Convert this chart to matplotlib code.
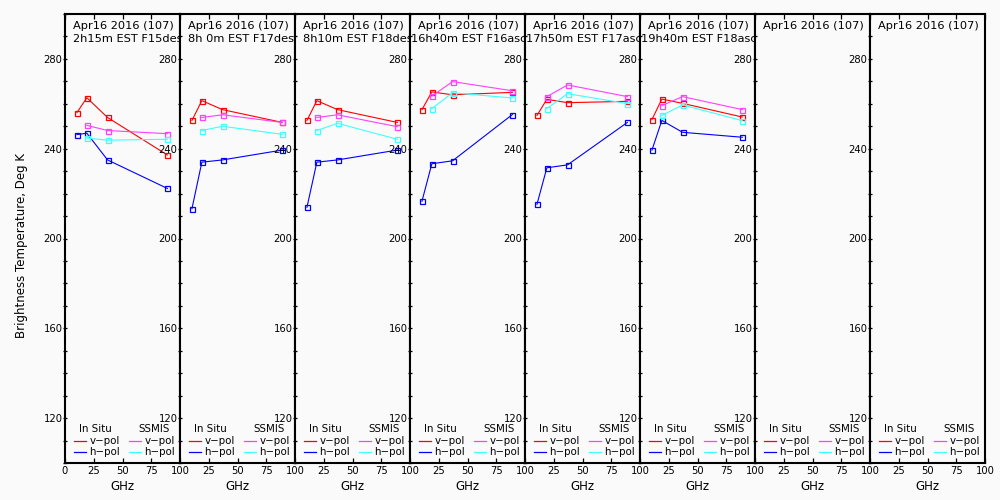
import matplotlib
matplotlib.use("Agg")
import matplotlib.pyplot as plt
from matplotlib.ticker import MultipleLocator, FixedLocator

# frequencies (GHz)
insitu_freq = [10.4, 19.0, 37.0, 89.0]
ssmis_freq = [19.0, 37.0, 89.0]

date_label = "Apr16 2016 (107)"
pass_labels = ["2h15m EST F15desc", "8h 0m EST F17desc", "8h10m EST F18desc",
               "16h40m EST F16asc", "17h50m EST F17asc", "19h40m EST F18asc", "", ""]

# in situ brightness temperatures, Deg K
insitu_v = [
    [256.1, 262.7, 253.9, 237.2],
    [252.6, 261.4, 257.4, 251.7],
    [252.6, 261.4, 257.4, 251.7],
    [257.4, 265.3, 264.0, 265.1],
    [254.8, 262.0, 260.5, 261.1],
    [253.0, 262.1, 260.2, 254.1],
]
insitu_h = [
    [246.3, 246.9, 235.0, 222.3],
    [213.3, 234.0, 235.0, 239.4],
    [213.9, 234.0, 235.0, 239.4],
    [216.6, 233.3, 234.6, 255.2],
    [215.2, 231.5, 232.8, 251.7],
    [239.4, 252.6, 247.3, 245.1],
]
# SSMIS brightness temperatures, Deg K
ssmis_v = [
    [250.4, 248.1, 246.7],
    [253.9, 255.1, 251.7],
    [253.9, 255.1, 249.8],
    [263.4, 269.9, 265.8],
    [263.2, 268.4, 263.2],
    [259.2, 263.2, 257.4],
]
ssmis_h = [
    [244.7, 243.8, 244.2],
    [248.1, 250.0, 246.4],
    [248.1, 251.3, 244.2],
    [257.9, 264.9, 262.6],
    [257.9, 264.5, 260.1],
    [254.8, 259.5, 252.5],
]

RED, BLUE, MAG, CYAN = "#ff0000", "#0000ff", "#ff40ff", "#40ffff"
BG = "#fafafa"

fig = plt.figure(figsize=(10, 5), dpi=100, facecolor=BG)
nPanels = 8
left, width = 0.065, 0.115
bottom, height = 0.074, 0.898


def drawLegend(ax):
    kw = dict(transform=ax.transAxes, fontsize=7.4, va="center", ha="left", color="black")
    ax.text(0.122, 0.075, "In Situ", **kw)
    ax.text(0.635, 0.075, "SSMIS", **kw)
    for x0, y0, col, lab in [(0.078, 0.048, RED, "v\u2212pol"), (0.078, 0.024, BLUE, "h\u2212pol"),
                             (0.557, 0.048, MAG, "v\u2212pol"), (0.557, 0.024, CYAN, "h\u2212pol")]:
        ax.plot([x0, x0 + 0.105], [y0, y0], transform=ax.transAxes, color=col, lw=0.9)
        ax.text(x0 + 0.135, y0, lab, **kw)


for i in range(nPanels):
    ax = fig.add_axes([left + i * width, bottom, width, height], facecolor=BG)
    mk = dict(marker="s", ms=3.6, mfc="none", mew=0.9, lw=0.8)
    if i < len(insitu_v):
        ax.plot(insitu_freq, insitu_v[i], color=RED, **mk)
        ax.plot(insitu_freq, insitu_h[i], color=BLUE, **mk)
        ax.plot(ssmis_freq, ssmis_v[i], color=MAG, **mk)
        ax.plot(ssmis_freq, ssmis_h[i], color=CYAN, **mk)

    ax.set_xlim(0, 100)
    ax.set_ylim(100, 300)
    ax.xaxis.set_major_locator(FixedLocator([0, 25, 50, 75, 100]))
    if i == 0:
        ax.set_xticklabels(["0", "25", "50", "75", "100"])
    else:
        ax.set_xticklabels(["", "25", "50", "75", "100"])
    ax.yaxis.set_major_locator(MultipleLocator(40))
    ax.yaxis.set_minor_locator(MultipleLocator(10))
    ax.tick_params(axis="x", direction="in", top=True, length=3.5, width=0.9, labelsize=7.2, pad=2)
    ax.tick_params(axis="y", which="both", direction="inout", length=3.5, width=0.9,
                   labelsize=7.2, pad=0)
    for s in ax.spines.values():
        s.set_linewidth(1.5)
    ax.set_xlabel("GHz", fontsize=8.5, labelpad=3)

    ax.text(0.07, 0.9666, date_label, transform=ax.transAxes, fontsize=8.2,
            va="baseline", ha="left", clip_on=True)
    if pass_labels[i]:
        x0 = 0.009 if pass_labels[i][1].isdigit() else 0.07
        ax.text(x0, 0.9376, pass_labels[i], transform=ax.transAxes, fontsize=8.2,
                va="baseline", ha="left", clip_on=True)
    drawLegend(ax)

fig.text(0.022, 0.508, "Brightness Temperature, Deg K", rotation=90, fontsize=8.5,
         va="center", ha="center")

plt.savefig("out.png", dpi=100, facecolor=BG)
